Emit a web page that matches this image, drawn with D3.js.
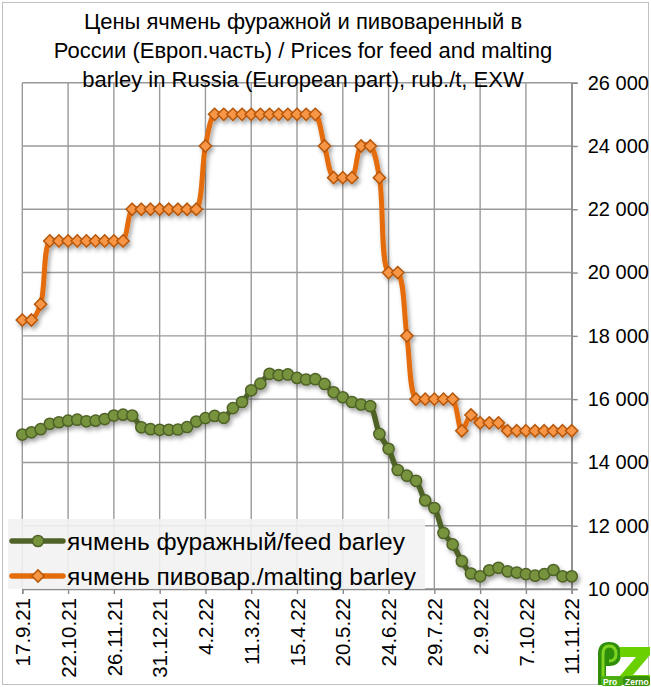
<!DOCTYPE html>
<html>
<head>
<meta charset="utf-8">
<script src="https://cdn.jsdelivr.net/npm/d3@7"></script>
<style>
  body { margin: 0; background: #fff; }
  svg text { font-family: "Liberation Sans", Arial, sans-serif; fill: #000; }
</style>
</head>
<body>
<svg id="chart"></svg>
<script>
/* chart data, weekly prices, rub./t */
const startDate = "17.9.21";
const tickLabels = ["17.9.21", "22.10.21", "26.11.21", "31.12.21", "4.2.22", "11.3.22", "15.4.22",
    "20.5.22", "24.6.22", "29.7.22", "2.9.22", "7.10.22", "11.11.22"];
const yTicks = [10000, 12000, 14000, 16000, 18000, 20000, 22000, 24000, 26000];

// feed barley
const feedPrices = [14880, 14950, 15050, 15220, 15270, 15320, 15350, 15300, 15320, 15370,
    15480, 15510, 15480, 15110, 15050, 15030, 15030, 15040, 15120, 15290,
    15400, 15470, 15410, 15716, 15910, 16280, 16490, 16800, 16760, 16780,
    16670, 16620, 16630, 16480, 16215, 16060, 15910, 15830, 15780, 14900,
    14430, 13760, 13580, 13420, 12800, 12560, 11770, 11410, 10880, 10490,
    10400, 10590, 10670, 10560, 10520, 10470, 10420, 10470, 10600, 10400, 10400];

// malting barley
const maltingPrices = [18500, 18500, 19000, 21000, 21000, 21000, 21000, 21000, 21000, 21000,
    21000, 21000, 22000, 22000, 22000, 22000, 22000, 22000, 22000, 22000,
    24000, 25000, 25000, 25000, 25000, 25000, 25000, 25000, 25000, 25000,
    25000, 25000, 25000, 24000, 23000, 23000, 23000, 24000, 24000, 23000,
    20000, 20000, 18000, 16000, 16000, 16000, 16000, 16000, 15000, 15500,
    15250, 15250, 15250, 15000, 15000, 15000, 15000, 15000, 15000, 15000, 15000];

const titleLines = ["Цены ячмень фуражной и пивоваренный в",
    "России (Европ.часть) / Prices for feed and malting",
    "barley in Russia (European part), rub./t, EXW"];
const seriesNames = ["ячмень фуражный/feed barley", "ячмень пивовар./malting barley"];

/* layout */
const width = 651, height = 687;
const parseDate = d3.timeParse("%d.%m.%y");
const fmt = d3.format(",");

const svg = d3.select("#chart")
    .attr("width", width)
    .attr("height", height);

// drop shadow for the series
const defs = svg.append("defs");
defs.append("filter")
    .attr("id", "shadow")
    .attr("x", "-10%").attr("y", "-10%")
    .attr("width", "130%").attr("height", "140%")
    .append("feDropShadow")
        .attr("dx", 2).attr("dy", 3)
        .attr("stdDeviation", 2)
        .attr("flood-color", "#000")
        .attr("flood-opacity", 0.35);

// outer frame
svg.append("rect")
    .attr("x", 2.5).attr("y", 2.5)
    .attr("width", width - 5).attr("height", height - 5)
    .attr("fill", "#fff")
    .attr("stroke", "#c0c0c0");

const start = parseDate(startDate);
const dates = feedPrices.map((d, i) => d3.timeDay.offset(start, 7 * i));
const tickDates = tickLabels.map(parseDate);

const xScale = d3.scaleTime()
    .domain([tickDates[0], tickDates[tickDates.length - 1]])
    .range([22.3, 571.7]);

const yScale = d3.scaleLinear()
    .domain([10000, 26000])
    .range([589, 82.7]);

// grid
const grid = svg.append("g").attr("class", "grid")
    .attr("stroke", "#9a9a9a")
    .attr("stroke-width", 1.4);

grid.selectAll("line.h")
    .data(yTicks)
    .enter()
        .append("line")
        .attr("class", "h")
        .attr("x1", xScale.range()[0])
        .attr("x2", xScale.range()[1])
        .attr("y1", d => yScale(d))
        .attr("y2", d => yScale(d));

grid.selectAll("line.v")
    .data(tickDates)
    .enter()
        .append("line")
        .attr("class", "v")
        .attr("x1", d => xScale(d))
        .attr("x2", d => xScale(d))
        .attr("y1", yScale(26000))
        .attr("y2", yScale(10000));

// axes
let yAxis = d3.axisRight(yScale)
    .tickValues(yTicks)
    .tickSize(6)
    .tickPadding(10)
    .tickFormat(d => fmt(d).replace(",", " "));

let xAxis = d3.axisBottom(xScale)
    .tickValues(tickDates)
    .tickSize(5)
    .tickFormat((d, i) => tickLabels[i]);

svg.append("g")
    .attr("class", "yAxis")
    .attr("transform", `translate(${xScale.range()[1]}, 0)`)
    .call(yAxis)
    .call(g => g.selectAll("text").style("font-size", "20px"));

svg.append("g")
    .attr("class", "xAxis")
    .attr("transform", `translate(0, ${yScale(10000)})`)
    .call(xAxis)
    .call(g => g.selectAll("text")
        .style("font-size", "20.5px")
        .attr("transform", "rotate(-90)")
        .attr("text-anchor", "end")
        .attr("x", -9)
        .attr("y", 0)
        .attr("dy", "0.35em"));

svg.selectAll(".yAxis path, .xAxis path, .yAxis line, .xAxis line")
    .attr("stroke", "#8a8a8a")
    .attr("stroke-width", 1.4);

// title
svg.append("text")
    .attr("x", 303)
    .attr("y", 29)
    .attr("text-anchor", "middle")
    .style("font-size", "22px")
    .selectAll("tspan")
    .data(titleLines)
    .enter()
        .append("tspan")
        .attr("x", 303)
        .attr("dy", (d, i) => i ? 29 : 0)
        .text(d => d);

// series
const line = d3.line()
    .x((d, i) => xScale(dates[i]))
    .y(d => yScale(d))
    .curve(d3.curveCatmullRom.alpha(0.5));

const diamond = d3.symbol().type(d3.symbolDiamond2).size(95);

const feedColor = "#4f6228", feedFill = "#77933c";
const maltColor = "#e46c0a", maltFill = "#f79646", maltStroke = "#b65708";

let feedG = svg.append("g").attr("filter", "url(#shadow)");
feedG.append("path")
    .datum(feedPrices)
    .attr("fill", "none")
    .attr("stroke", feedColor)
    .attr("stroke-width", 5.5)
    .attr("d", line);
feedG.selectAll("circle")
    .data(feedPrices)
    .enter()
        .append("circle")
        .attr("cx", (d, i) => xScale(dates[i]))
        .attr("cy", d => yScale(d))
        .attr("r", 5.6)
        .attr("fill", feedFill)
        .attr("stroke", feedColor)
        .attr("stroke-width", 1.5);

let maltG = svg.append("g").attr("filter", "url(#shadow)");
maltG.append("path")
    .datum(maltingPrices)
    .attr("fill", "none")
    .attr("stroke", maltColor)
    .attr("stroke-width", 5)
    .attr("d", line);
maltG.selectAll("path.mark")
    .data(maltingPrices)
    .enter()
        .append("path")
        .attr("class", "mark")
        .attr("transform", (d, i) => `translate(${xScale(dates[i])}, ${yScale(d)})`)
        .attr("d", diamond)
        .attr("fill", maltFill)
        .attr("stroke", maltStroke)
        .attr("stroke-width", 1.5);

// legend
const legend = svg.append("g").attr("class", "legend");
legend.append("rect")
    .attr("x", 8).attr("y", 519)
    .attr("width", 417).attr("height", 70)
    .attr("fill", "#f2f2f2")
    .attr("fill-opacity", 0.9);

const legendRows = [
    { name: seriesNames[0], color: feedColor, fill: feedFill, mark: "circle" },
    { name: seriesNames[1], color: maltColor, fill: maltFill, mark: "diamond" }
];

legendRows.forEach((r, i) => {
    let ly = 541 + i * 35;
    legend.append("line")
        .attr("x1", 12).attr("x2", 63)
        .attr("y1", ly).attr("y2", ly)
        .attr("stroke", r.color)
        .attr("stroke-width", 5.5)
        .attr("stroke-linecap", "round");
    if (r.mark === "circle") {
        legend.append("circle")
            .attr("cx", 38).attr("cy", ly).attr("r", 5.6)
            .attr("fill", r.fill).attr("stroke", r.color).attr("stroke-width", 1.5);
    } else {
        legend.append("path")
            .attr("transform", `translate(38, ${ly})`)
            .attr("d", diamond)
            .attr("fill", r.fill).attr("stroke", maltStroke).attr("stroke-width", 1.5);
    }
    legend.append("text")
        .attr("x", 67).attr("y", ly)
        .attr("dy", "0.35em")
        .style("font-size", "24.5px")
        .text(r.name);
});

// ProZerno logo
const logo = svg.append("g").attr("transform", "translate(597, 641)");
// "p": bowl on top, stem down
logo.append("path")
    .attr("d", "M1,44 L1,13 Q1,1 12,1 Q24,1 24,13 Q24,25 12,25 L9,25 L9,44 Z")
    .attr("fill", "#2f8f0a");
logo.append("path")
    .attr("d", "M6,40 L6,13 Q6,5 12,5 Q19,5 19,13 Q19,20 12,20")
    .attr("fill", "none").attr("stroke", "#7fd321").attr("stroke-width", 3);
// "z"
logo.append("path")
    .attr("d", "M23,6 L53,6 L53,14 L36,34 L53,34 L53,44 L22,44 L22,36 L39,16 L23,16 Z")
    .attr("fill", "#6ad000");
// bottom band with name
logo.append("rect")
    .attr("x", 4).attr("y", 35).attr("width", 22).attr("height", 10).attr("rx", 3)
    .attr("fill", "#4cae12");
logo.append("rect")
    .attr("x", 26).attr("y", 35).attr("width", 27).attr("height", 10).attr("rx", 3)
    .attr("fill", "#3a8f0a");
logo.append("text")
    .attr("x", 6).attr("y", 43.5)
    .style("font-size", "8.5px").style("font-weight", "bold")
    .style("fill", "#fff")
    .text("Pro");
logo.append("text")
    .attr("x", 28).attr("y", 43.5)
    .style("font-size", "8.5px").style("font-weight", "bold")
    .style("fill", "#fff")
    .text("Zerno");
</script>
</body>
</html>
